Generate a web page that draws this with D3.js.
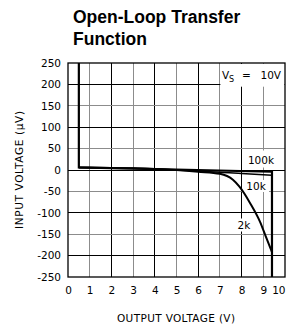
<!DOCTYPE html>
<html>
<head>
<meta charset="utf-8">
<script src="https://cdn.jsdelivr.net/npm/d3@7"></script>
<style>
  body { margin: 0; background: #fff; }
  svg { display: block; }
  text { font-family: "DejaVu Sans", sans-serif; }
</style>
</head>
<body>
<div id="chart"></div>
<script>
// tick labels
var xTicks = [0, 1, 2, 3, 4, 5, 6, 7, 8, 9, 10];
var yTicks = [250, 200, 150, 100, 50, 0, -50, -100, -150, -200, -250];

// curves (output V, input uV)
var load100kX = [0.5, 0.5, 9.4, 9.4];
var load100kY = [250, 6, -4, -250];
var load10kX = [0.5, 3, 5, 6, 7, 8, 9.4];
var load10kY = [6, 4, 0, -3, -5, -8, -12];
var load2kX = [0.5, 3, 5, 6, 7, 7.6, 7.9, 8.4, 8.85, 9.15, 9.4];
var load2kY = [6, 4, 0, -4, -9, -23, -39, -78, -121, -160, -192];

function pts(xs, ys) {
  return xs.map(function(v, i){ return [v, ys[i]]; });
}

var W = 289, H = 324;
var svg = d3.select("#chart").append("svg")
    .attr("width", W)
    .attr("height", H);

// title
var title = svg.append("text")
    .attr("x", 73)
    .attr("y", 23)
    .style("font-family", "'Liberation Sans', Arial, sans-serif")
    .style("font-weight", "bold")
    .style("font-size", "17.5px");
title.append("tspan").attr("x", 73).attr("y", 23).text("Open-Loop Transfer");
title.append("tspan").attr("x", 73).attr("y", 45).text("Function");

var x = d3.scaleLinear().domain([0, 10]).range([68, 285]);
var y = d3.scaleLinear().domain([-250, 250]).range([277, 63]);

// grid
var grid = svg.append("g").attr("shape-rendering", "crispEdges");
xTicks.slice(1, -1).forEach(function(t){
  grid.append("line")
    .attr("x1", x(t)).attr("x2", x(t))
    .attr("y1", y(250)).attr("y2", y(-250))
    .attr("stroke", t % 2 === 0 ? "#000" : "#8c8c8c")
    .attr("stroke-width", 1);
});
yTicks.slice(1, -1).forEach(function(t){
  grid.append("line")
    .attr("x1", x(0)).attr("x2", x(10))
    .attr("y1", y(t)).attr("y2", y(t))
    .attr("stroke", t % 100 === 0 ? "#000" : "#8c8c8c")
    .attr("stroke-width", 1);
});

// Vs box covers the grid in the top right
svg.append("rect")
    .attr("x", x(7) + 0.5).attr("y", y(250) + 1)
    .attr("width", x(10) - x(7) - 1)
    .attr("height", y(197) - y(250))
    .attr("fill", "#fff");

// white patches behind the curve labels
function patch(cx, cy, w, h) {
  svg.append("rect")
    .attr("x", cx - w / 2).attr("y", cy - h / 2)
    .attr("width", w).attr("height", h)
    .attr("fill", "#fff");
}
patch(261, 159, 32, 17);
patch(256, 186, 26, 12);
patch(244, 225, 16, 13);

// frame
svg.append("rect")
    .attr("x", x(0)).attr("y", y(250))
    .attr("width", x(10) - x(0))
    .attr("height", y(-250) - y(250))
    .attr("fill", "none")
    .attr("stroke", "#000")
    .attr("stroke-width", 1.3);

// axes, labels only
var yAxis = svg.append("g")
    .attr("transform", "translate(" + x(0) + ",0)")
    .call(d3.axisLeft(y).tickValues(yTicks).tickSize(0).tickPadding(7)
      .tickFormat(function(d){ return d < 0 ? "-" + Math.abs(d) : d; }));
yAxis.select(".domain").remove();
yAxis.selectAll("text")
    .style("font-size", "10.5px")
    .style("font-family", "'DejaVu Sans', sans-serif")
    .attr("fill", "#000");

var xAxis = svg.append("g")
    .attr("transform", "translate(0," + y(-250) + ")")
    .call(d3.axisBottom(x).tickValues(xTicks).tickSize(0).tickPadding(10));
xAxis.select(".domain").remove();
xAxis.selectAll("text")
    .style("font-size", "10.5px")
    .style("font-family", "'DejaVu Sans', sans-serif")
    .attr("fill", "#000");
xAxis.selectAll(".tick").filter(function(d){ return d === 10; })
    .select("text").attr("text-anchor", "end");

// axis titles
svg.append("text")
    .attr("x", 176).attr("y", 322)
    .attr("text-anchor", "middle")
    .attr("textLength", 118)
    .style("font-size", "10.5px")
    .text("OUTPUT VOLTAGE (V)");

svg.append("text")
    .attr("transform", "translate(23,170) rotate(-90)")
    .attr("text-anchor", "middle")
    .attr("textLength", 118)
    .style("font-size", "10.5px")
    .text("INPUT VOLTAGE (\u03bcV)");

// curves
var line = d3.line().x(function(d){ return x(d[0]); }).y(function(d){ return y(d[1]); });
var smooth = d3.line().curve(d3.curveMonotoneX)
    .x(function(d){ return x(d[0]); }).y(function(d){ return y(d[1]); });

svg.append("path")
    .attr("d", smooth(pts(load10kX, load10kY)))
    .attr("fill", "none").attr("stroke", "#000").attr("stroke-width", 1.5);
svg.append("path")
    .attr("d", smooth(pts(load2kX, load2kY)))
    .attr("fill", "none").attr("stroke", "#000").attr("stroke-width", 2);
svg.append("path")
    .attr("d", line(pts(load100kX, load100kY)))
    .attr("fill", "none").attr("stroke", "#000").attr("stroke-width", 2.2);

// labels
function label(tx, ty, s) {
  svg.append("text")
    .attr("x", tx).attr("y", ty)
    .attr("text-anchor", "middle")
    .style("font-size", "10.5px")
    .text(s);
}
label(261, 164, "100k");
label(256, 190, "10k");
label(244, 229, "2k");

// V_S = 10V
svg.append("text").attr("x", 222).attr("y", 79)
    .style("font-size", "10.5px").text("V");
svg.append("text").attr("x", 229).attr("y", 82)
    .style("font-size", "8px").text("S");
svg.append("text").attr("x", 242).attr("y", 79)
    .style("font-size", "10.5px").text("=");
svg.append("text").attr("x", 281).attr("y", 79)
    .attr("text-anchor", "end")
    .style("font-size", "10.5px").text("10V");
</script>
</body>
</html>
